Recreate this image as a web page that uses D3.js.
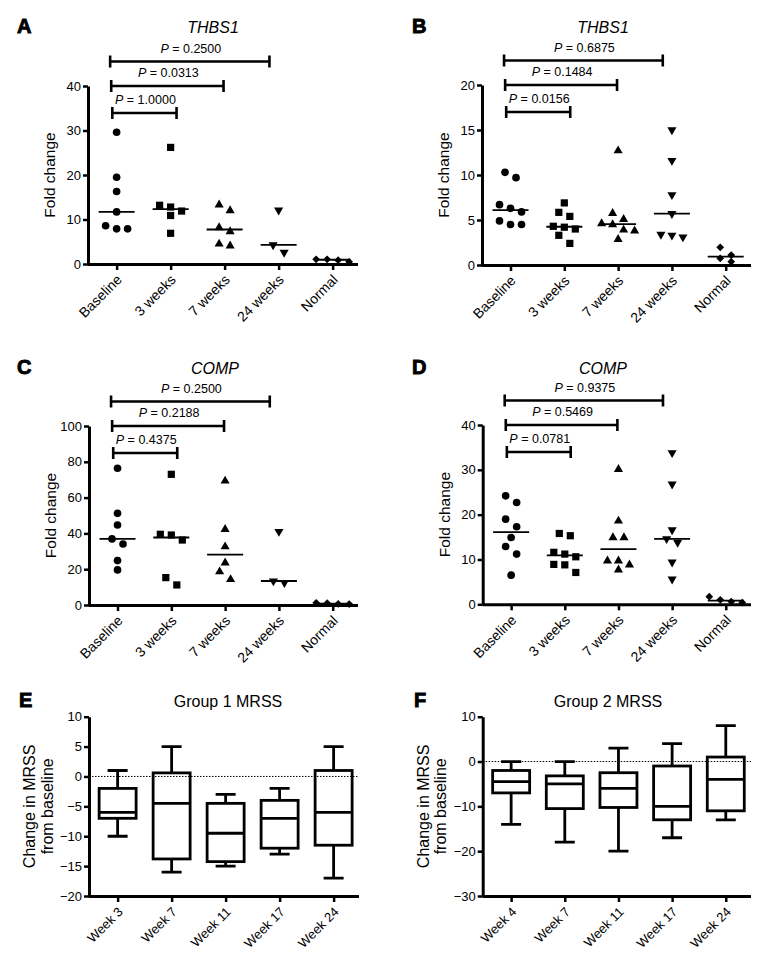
<!DOCTYPE html>
<html><head><meta charset="utf-8">
<script src="https://cdn.jsdelivr.net/npm/d3@7"></script>
<style>
body{margin:0;background:#fff}
svg{display:block}
text{font-family:"Liberation Sans",Arial,Helvetica,sans-serif;fill:#000}
</style>
</head><body>
<svg id="chart" width="763" height="971"></svg>
<script>
// ---------- data ----------
const categories = ["Baseline", "3 weeks", "7 weeks", "24 weeks", "Normal"];
const weeksE = ["Week 3", "Week 7", "Week 11", "Week 17", "Week 24"];
const weeksF = ["Week 4", "Week 7", "Week 11", "Week 17", "Week 24"];

// fold change per group (Baseline, 3 wk, 7 wk, 24 wk, Normal)
const thbs1A = [
  [29.6, 19.5, 16.3, 11.7, 8.6, 7.9, 7.9],
  [26.2, 13.2, 12.8, 11.9, 10.9, 6.9],
  [13.3, 12.0, 8.2, 7.3, 4.5, 4.1],
  [12.1, 4.3, 2.6],
  [1.05, 0.5, 0.85, 1.05]
];
const thbs1B = [
  [10.3, 9.7, 6.7, 6.3, 5.9, 4.9, 4.5, 4.5],
  [6.9, 5.85, 5.4, 4.3, 4.2, 4.0, 3.3, 2.4],
  [12.7, 5.74, 5.07, 4.6, 4.5, 3.9, 3.8, 2.85],
  [15.0, 11.6, 7.8, 5.7, 3.4, 3.3, 3.1],
  [1.96, 1.1, 0.74, 0.37]
];
const compC = [
  [76.4, 51.2, 44.7, 36.9, 34.1, 24.8, 19.6],
  [73.0, 39.5, 39.1, 36.3, 15.3, 11.2],
  [69.3, 42.3, 32.6, 23.6, 18.6, 14.3],
  [41.0, 13.4, 12.5],
  [1.2, 0.5, 0.6, 1.0]
];
const compD = [
  [24.2, 22.7, 19.0, 17.3, 14.9, 12.9, 11.2, 6.5],
  [15.8, 15.3, 11.6, 11.2, 10.6, 8.9, 8.8, 7.1],
  [30.1, 18.6, 14.9, 14.9, 9.7, 9.7, 8.8, 7.7],
  [33.8, 26.8, 16.6, 14.6, 13.8, 9.4, 5.6],
  [1.7, 1.0, 0.6, 0.4]
];

// P values (Baseline vs 3 wk, 7 wk, 24 wk)
const pA = ["1.0000", "0.0313", "0.2500"];
const pB = ["0.0156", "0.1484", "0.6875"];
const pC = ["0.4375", "0.2188", "0.2500"];
const pD = ["0.0781", "0.5469", "0.9375"];
// bracket spans in category units
const bracketSpans = [[-0.08, 1.11], [-0.1, 1.98], [-0.12, 2.83]];

// box plots: [min, q1, median, q3, max]
const mrssE = [
  [-10, -7, -6, -2, 1],
  [-16, -13.8, -4.5, 0.6, 5],
  [-15, -14.25, -9.5, -4.5, -3],
  [-13, -12, -7, -4, -2],
  [-17, -11.5, -6, 1, 5]
];
const mrssF = [
  [-14, -7, -4.5, -2, 0],
  [-18, -10.5, -5, -3.2, 0],
  [-20, -10.25, -6, -2.5, 3],
  [-17, -13, -10, -1, 4],
  [-13, -11, -4, 1, 8]
];

const ticksA = [0, 10, 20, 30, 40];
const ticksB = [0, 5, 10, 15, 20];
const ticksC = [0, 20, 40, 60, 80, 100];
const ticksD = [0, 10, 20, 30, 40];
const ticksE = [-20, -15, -10, -5, 0, 5, 10];
const ticksF = [-30, -20, -10, 0, 10];

// ---------- drawing ----------
const svg = d3.select("#chart");
const FONT = '"Liberation Sans",Arial,Helvetica,sans-serif';

function styleAxis(g) {
  g.select(".domain").attr("stroke", "#000").attr("stroke-width", 3);
  g.selectAll(".tick line").attr("stroke", "#000").attr("stroke-width", 2.5);
  g.selectAll(".tick text").attr("fill", "#000").style("font-family", FONT).style("font-size", "13px");
}

function panelFrame(p) {
  const x = d3.scaleLinear().domain([-0.53, 4.47]).range([p.x0, p.x1]);
  const y = d3.scaleLinear().domain(p.domain).range([p.y0, p.y1]);
  // y axis
  const gy = svg.append("g").attr("transform", `translate(${p.x0},0)`)
    .call(d3.axisLeft(y).tickValues(p.ticks).tickSize(5).tickSizeOuter(0).tickPadding(2));
  styleAxis(gy);
  // x axis
  const gx = svg.append("g").attr("transform", `translate(0,${p.y0})`)
    .call(d3.axisBottom(x).tickValues([0, 1, 2, 3, 4]).tickFormat(i => p.labels[i]).tickSize(6).tickSizeOuter(0));
  styleAxis(gx);
  gx.select(".domain").attr("d", `M${p.x0},0.5H${p.x1}`);
  gx.selectAll(".tick text")
    .style("font-size", p.xlabSize)
    .attr("text-anchor", "end")
    .attr("transform", "translate(-5,6) rotate(-45)")
    .attr("x", 0).attr("y", 15).attr("dy", 0);
  // panel letter
  svg.append("text").attr("x", p.lx).attr("y", p.ty).text(p.letter)
    .style("font-size", "20px").style("font-weight", "bold")
    .attr("stroke", "#000").attr("stroke-width", 0.9);
  // title
  svg.append("text").attr("x", p.tx).attr("y", p.ty).attr("text-anchor", "middle")
    .text(p.title).style("font-size", "16px").style("font-style", p.italic ? "italic" : "normal");
  // y label
  const ym = (p.y0 + p.y1) / 2;
  p.ylab.forEach((line, i) => {
    svg.append("text")
      .attr("transform", `translate(${p.x0 + p.ylabOff[i]},${ym}) rotate(-90)`)
      .attr("text-anchor", "middle").text(line)
      .style("font-size", p.ylabSize);
  });
  return {x, y};
}

function swarm(vals, y, step, tol) {
  const pts = vals.map(v => ({v, py: y(v)})).sort((a, b) => a.py - b.py);
  const rows = []; let cur = null;
  pts.forEach(pt => {
    if (cur && pt.py - cur[0].py <= tol) cur.push(pt);
    else { cur = [pt]; rows.push(cur); }
  });
  rows.forEach(r => r.forEach((pt, j) => pt.dx = (j - (r.length - 1) / 2) * step));
  return pts;
}

const symbols = [
  {type: d3.symbolCircle, size: 46, rot: 0},
  {type: d3.symbolSquare, size: 52, rot: 0},
  {type: d3.symbolTriangle, size: 36, rot: 0},
  {type: d3.symbolTriangle, size: 36, rot: 180},
  {type: d3.symbolSquare, size: 30, rot: 45}
];

function scatterPanel(p, data, pvals) {
  const {x, y} = panelFrame(p);
  const g = svg.append("g");
  data.forEach((vals, ci) => {
    const cx = x(ci);
    const s = symbols[ci];
    const path = d3.symbol().type(s.type).size(s.size)();
    swarm(vals, y, 11, 8.5).forEach(pt => {
      g.append("path").attr("d", path)
        .attr("transform", `translate(${cx + pt.dx},${pt.py}) rotate(${s.rot})`)
        .attr("fill", "#000");
    });
    const m = d3.median(vals);
    g.append("line").attr("x1", cx - 18).attr("x2", cx + 18)
      .attr("y1", y(m)).attr("y2", y(m))
      .attr("stroke", "#000").attr("stroke-width", 1.8);
  });
  // significance brackets
  const levels = [27, 0, -24.5];
  pvals.forEach((pv, i) => {
    const by = p.y1 + levels[i];
    const xa = x(bracketSpans[i][0]), xb = x(bracketSpans[i][1]);
    g.append("path")
      .attr("d", `M${xa},${by - 6}V${by + 6}M${xa},${by}H${xb}M${xb},${by - 6}V${by + 6}`)
      .attr("stroke", "#000").attr("stroke-width", 2.6).attr("fill", "none");
    const t = g.append("text").attr("x", (xa + xb) / 2 + 1).attr("y", by - 9)
      .attr("text-anchor", "middle").style("font-size", "12.5px");
    t.append("tspan").style("font-style", "italic").text("P");
    t.append("tspan").text(" = " + pv);
  });
}

function boxPanel(p, data) {
  const {x, y} = panelFrame(p);
  const g = svg.append("g");
  g.append("line").attr("x1", p.x0).attr("x2", p.x1).attr("y1", y(0)).attr("y2", y(0))
    .attr("stroke", "#000").attr("stroke-width", 1).attr("stroke-dasharray", "1.5,1.5");
  const bw = 37, cw = 20;
  data.forEach((d, i) => {
    const cx = x(i);
    const [mn, q1, md, q3, mx] = d;
    const st = sel => sel.attr("stroke", "#000").attr("stroke-width", 2.8).attr("fill", "none");
    st(g.append("path").attr("d",
      `M${cx},${y(q3)}V${y(mx)}M${cx - cw / 2},${y(mx)}H${cx + cw / 2}` +
      `M${cx},${y(q1)}V${y(mn)}M${cx - cw / 2},${y(mn)}H${cx + cw / 2}`));
    st(g.append("rect").attr("x", cx - bw / 2).attr("width", bw)
      .attr("y", y(q3)).attr("height", y(q1) - y(q3)).attr("fill", "#fff"));
    st(g.append("line").attr("x1", cx - bw / 2).attr("x2", cx + bw / 2)
      .attr("y1", y(md)).attr("y2", y(md)));
  });
}

const foldLab = {ylab: ["Fold change"], ylabOff: [-33], ylabSize: "15.5px", xlabSize: "14px"};
const mrssLab = {ylab: ["Change in MRSS", "from baseline"], ylabOff: [-54, -36.5], ylabSize: "16px", xlabSize: "13px"};

scatterPanel(Object.assign({x0: 88, x1: 358, y0: 264, y1: 86, domain: [0, 40], ticks: ticksA,
  labels: categories, letter: "A", lx: 17, tx: 213, ty: 33, title: "THBS1", italic: true}, foldLab), thbs1A, pA);
scatterPanel(Object.assign({x0: 482, x1: 751, y0: 265, y1: 85, domain: [0, 20], ticks: ticksB,
  labels: categories, letter: "B", lx: 412, tx: 603, ty: 33, title: "THBS1", italic: true}, foldLab), thbs1B, pB);
scatterPanel(Object.assign({x0: 89, x1: 358, y0: 605, y1: 426, domain: [0, 100], ticks: ticksC,
  labels: categories, letter: "C", lx: 17, tx: 215, ty: 374, title: "COMP", italic: true}, foldLab), compC, pC);
scatterPanel(Object.assign({x0: 482.7, x1: 751, y0: 604.3, y1: 425, domain: [0, 40], ticks: ticksD,
  labels: categories, letter: "D", lx: 412, tx: 603, ty: 374, title: "COMP", italic: true}, foldLab), compD, pD);
boxPanel(Object.assign({x0: 89, x1: 359, y0: 896, y1: 716.7, domain: [-20, 10], ticks: ticksE,
  labels: weeksE, letter: "E", lx: 19, tx: 228, ty: 707, title: "Group 1 MRSS", italic: false}, mrssLab), mrssE);
boxPanel(Object.assign({x0: 482.7, x1: 751, y0: 896, y1: 716.7, domain: [-30, 10], ticks: ticksF,
  labels: weeksF, letter: "F", lx: 414, tx: 608, ty: 707, title: "Group 2 MRSS", italic: false}, mrssLab), mrssF);
</script>
</body></html>
